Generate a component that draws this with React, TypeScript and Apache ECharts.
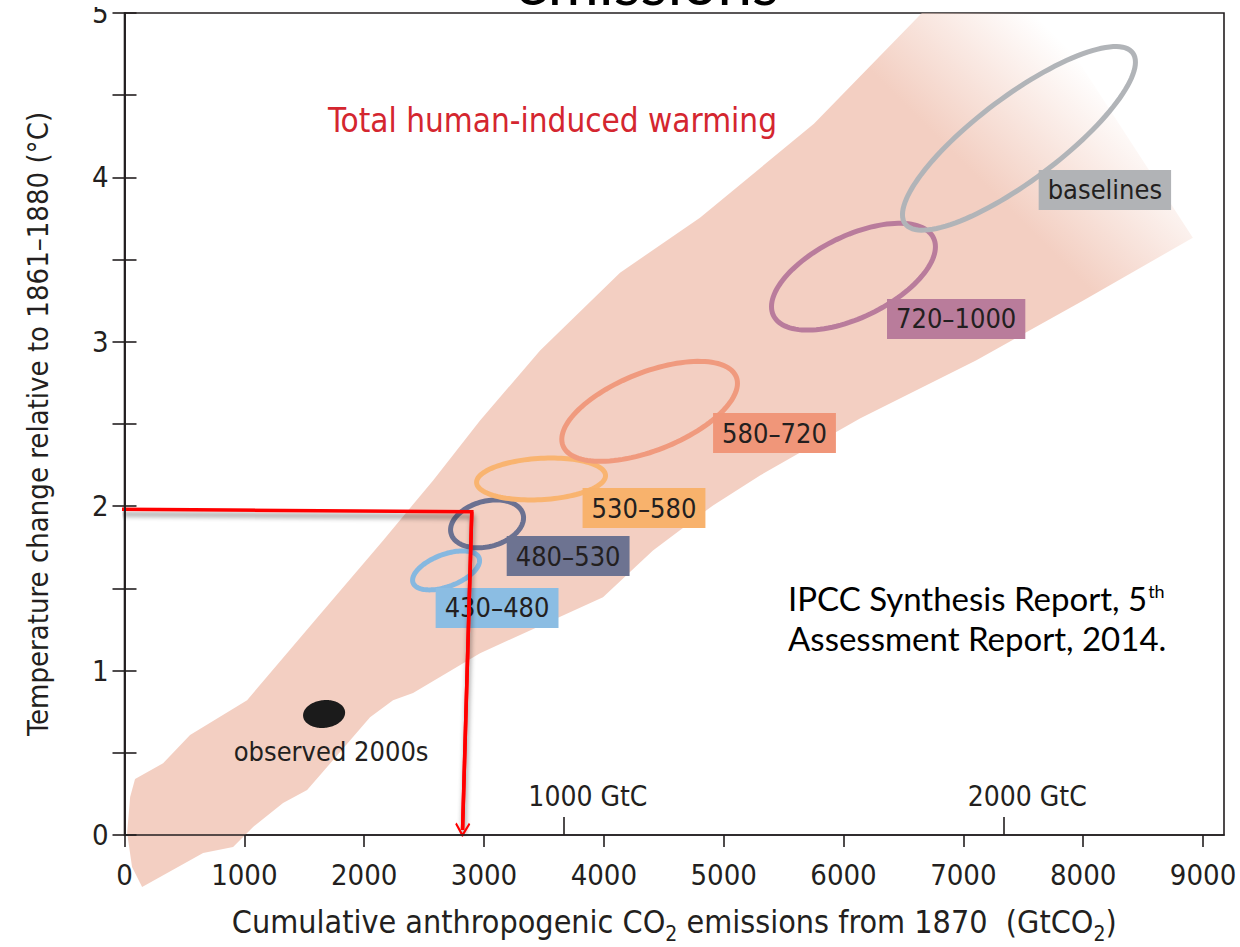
import React, { useEffect, useRef } from "react";
import * as echarts from "echarts";

// ---------------- data ----------------
const X_MAX = 9175; // GtCO2 at the right frame
const Y_MAX = 5;
const CO2_PER_C = 44 / 12;
const xTickValues = [0, 1000, 2000, 3000, 4000, 5000, 6000, 7000, 8000, 9000];
const yLabelValues = [0, 1, 2, 3, 4, 5];
const yTickValues = [0, 0.5, 1, 1.5, 2, 2.5, 3, 3.5, 4, 4.5, 5];
const gtcTickValues = [1000, 2000];

const scenarioNames = ["430–480", "480–530", "530–580", "580–720", "720–1000", "baselines"];
const ellipseXMin = [2404, 2721, 2938, 3649, 5399, 6492];
const ellipseXMax = [2963, 3330, 4014, 5115, 6767, 8436];
const ellipseYMin = [1.491, 1.747, 2.038, 2.273, 3.071, 3.679];
const ellipseYMax = [1.728, 2.038, 2.293, 2.881, 3.721, 4.796];
const ellipseTilt = [0.5, 0.25, 0.16, 0.56, 0.56, 0.83];
const labelX = [3109, 3702, 4335, 5424, 6940, 8181];
const labelY = [1.381, 1.697, 1.989, 2.445, 3.139, 3.924];

const observedXRange = [1490, 1841];
const observedYRange = [0.651, 0.821];
const observedTilt = 0.1;
const observedLabelPos = [1724, 0.505];

const bandUpperEdge = [
  [47, 0.231], [88, 0.34], [322, 0.437], [547, 0.608], [1023, 0.82], [1590, 1.306],
  [2158, 1.792], [2575, 2.157], [2967, 2.521], [3468, 2.947], [4135, 3.42],
  [4802, 3.755], [5753, 4.326], [6654, 5.0], [7700, 5.0],
];
const bandLowerEdge = [
  [8915, 3.633], [7997, 3.25], [7105, 2.886], [6137, 2.533], [5303, 2.187], [4911, 2.005],
  [4410, 1.731], [3993, 1.446], [2967, 1.106], [2408, 0.863], [2241, 0.82], [2049, 0.717],
  [1741, 0.456], [1524, 0.273], [1323, 0.194], [1073, 0.049], [906, -0.073], [656, -0.109],
  [147, -0.316], [63, -0.194], [22, 0.012],
];
const bandFadeFrom = [6304, 4.592];
const bandFadeTo = [7222, 5.262];

const arrowPath = [[-22, 1.981], [2898, 1.967], [2821, 0.03]];

// ---------------- styles ----------------
const COND = '"Liberation Sans Narrow","DejaVu Sans Condensed","Arial Narrow","Roboto Condensed",sans-serif';
const INK = "#231f20";
const scenarioStroke = ["#86b8e0", "#6b7191", "#f9b470", "#f09a7e", "#b97c9c", "#b1b4b8"];
const scenarioBox = ["#8bbde3", "#6d7391", "#f8b26c", "#f09679", "#b97c9b", "#b1b3b6"];
const BAND = "243,207,194";
const CHEVRON = "path://M10,0 L20,13 L18.2,14.8 L10,4.4 L1.8,14.8 L0,13 Z";

function ellipsePts(api: any, x0: number, x1: number, y0: number, y1: number, tilt: number) {
  const cx = (x0 + x1) / 2, cy = (y0 + y1) / 2, ax = (x1 - x0) / 2, ay = (y1 - y0) / 2;
  const phi = Math.acos(Math.max(-1, Math.min(1, tilt)));
  const pts: number[][] = [];
  const N = 120;
  for (let i = 0; i < N; i++) {
    const t = (i / N) * Math.PI * 2;
    pts.push(api.coord([cx + ax * Math.cos(t), cy + ay * Math.cos(t - phi)]));
  }
  return pts;
}

export default function App() {
  const ref = useRef<HTMLDivElement>(null);
  useEffect(() => {
    if (!ref.current) return;
    const chart = echarts.init(ref.current, undefined, { renderer: "svg" });
    const axisLine = { show: true, lineStyle: { color: INK, width: 1.6 } };

    const option: any = {
      animation: false,
      backgroundColor: "#ffffff",
      grid: {
        left: 124.5, right: 16, top: 13, bottom: 112, containLabel: false, outerBoundsMode: "none",
        show: true, borderColor: INK, borderWidth: 1.6, backgroundColor: "transparent",
      },
      xAxis: [
        {
          type: "value", min: 0, max: X_MAX, position: "bottom", z: 10,
          axisLine,
          splitLine: { show: false },
          axisTick: { show: true, inside: false, length: 12, customValues: xTickValues, lineStyle: { color: INK, width: 1.6 } },
          axisLabel: { customValues: xTickValues, margin: 25, fontSize: 29, color: INK, fontFamily: COND, formatter: (v: number) => String(v) },
          name: "{a|Cumulative anthropogenic CO}{s|2}{a| emissions from 1870  (GtCO}{s|2}{a|)}",
          nameLocation: "middle", nameGap: 70,
          nameTextStyle: {
            color: INK, fontFamily: COND, fontSize: 32,
            rich: {
              a: { fontSize: 32, fontFamily: COND, color: INK, lineHeight: 34 },
              s: { fontSize: 21, fontFamily: COND, color: INK, lineHeight: 34, verticalAlign: "bottom", padding: [0, 0, -5, 0] },
            },
          },
        },
        {
          type: "value", min: 0, max: X_MAX / CO2_PER_C, position: "bottom", z: 10,
          axisLine: { show: false },
          splitLine: { show: false },
          axisTick: { show: true, inside: true, length: 18, customValues: gtcTickValues, lineStyle: { color: INK, width: 1.6 } },
          axisLabel: {
            show: true, inside: true, customValues: gtcTickValues, margin: 25, fontSize: 28, color: INK, fontFamily: COND,
            formatter: (v: number) => `${v} GtC`, padding: [0, 0, 0, 48],
          },
        },
      ],
      yAxis: [
        {
          type: "value", min: 0, max: Y_MAX, position: "left", z: 10,
          axisLine,
          splitLine: { show: false },
          axisTick: { show: true, inside: true, length: 12, customValues: yTickValues, lineStyle: { color: INK, width: 1.6 } },
          axisLabel: { customValues: yLabelValues, margin: 16, fontSize: 29, color: INK, fontFamily: COND },
          name: "Temperature change relative to 1861–1880 (°C)",
          nameLocation: "middle", nameGap: 72,
          nameTextStyle: { color: INK, fontFamily: COND, fontSize: 29 },
        },
        {
          type: "value", min: 0, max: Y_MAX, position: "right", z: 10,
          axisLine,
          splitLine: { show: false },
          axisTick: { show: true, inside: true, length: 12, customValues: yTickValues, lineStyle: { color: INK, width: 1.6 } },
          axisLabel: { show: false },
        },
      ],
      series: [
        {
          type: "custom", name: "band", coordinateSystem: "cartesian2d", clip: false, silent: true, z: 1,
          data: [[0, 0]],
          renderItem: (_p: any, api: any) => {
            const pts = bandUpperEdge.concat(bandLowerEdge).map((d) => api.coord(d));
            const a = api.coord(bandFadeFrom), b = api.coord(bandFadeTo);
            return {
              type: "polygon",
              shape: { points: pts },
              style: {
                fill: new echarts.graphic.LinearGradient(a[0], a[1], b[0], b[1], [
                  { offset: 0, color: `rgba(${BAND},1)` },
                  { offset: 1, color: `rgba(${BAND},0)` },
                ], true),
                stroke: "none",
              },
            };
          },
        },
        {
          type: "custom", name: "ellipses", coordinateSystem: "cartesian2d", clip: false, silent: true, z: 3,
          data: scenarioNames.map((_, i) => [ellipseXMin[i], ellipseYMin[i], ellipseXMax[i], ellipseYMax[i], ellipseTilt[i], i]),
          renderItem: (_p: any, api: any) => {
            const i = api.value(5);
            const pts = ellipsePts(api, api.value(0), api.value(2), api.value(1), api.value(3), api.value(4));
            return {
              type: "polygon",
              shape: { points: pts },
              style: { fill: "none", stroke: scenarioStroke[i], lineWidth: 5 },
            };
          },
        },
        {
          type: "custom", name: "observed", coordinateSystem: "cartesian2d", clip: false, silent: true, z: 3,
          data: [[observedXRange[0], observedYRange[0], observedXRange[1], observedYRange[1], observedTilt]],
          renderItem: (_p: any, api: any) => ({
            type: "polygon",
            shape: { points: ellipsePts(api, api.value(0), api.value(2), api.value(1), api.value(3), api.value(4)) },
            style: { fill: "#1b1b1b", stroke: "none" },
          }),
        },
        {
          type: "scatter", name: "labels", z: 4, silent: true, symbol: "circle", symbolSize: 2,
          itemStyle: { color: "rgba(0,0,0,0)", opacity: 1 },
          data: scenarioNames.map((n, i) => ({
            name: n, value: [labelX[i], labelY[i]],
            label: { backgroundColor: scenarioBox[i] },
          })),
          label: {
            show: true, position: "inside", formatter: "{b}", color: INK, fontFamily: COND, fontSize: 27,
            lineHeight: 31, padding: [5, 9, 4, 9], opacity: 1,
          },
        },
        {
          type: "scatter", name: "observedLabel", z: 4, silent: true, symbol: "circle", symbolSize: 2,
          itemStyle: { color: "rgba(0,0,0,0)", opacity: 1 },
          data: [{ name: "observed 2000s", value: observedLabelPos }],
          label: { show: true, position: "inside", formatter: "{b}", color: INK, fontFamily: COND, fontSize: 27, opacity: 1 },
        },
        {
          type: "lines", coordinateSystem: "cartesian2d", polyline: true, z: 6, silent: true,
          data: [{ coords: arrowPath }],
          lineStyle: { color: "#ff0000", width: 3.5, opacity: 1, shadowColor: "rgba(0,0,0,0.45)", shadowBlur: 5, shadowOffsetY: 5, shadowOffsetX: 1 },
        },
        {
          type: "lines", coordinateSystem: "cartesian2d", z: 7, silent: true,
          data: [{ coords: [arrowPath[1], arrowPath[2]] }],
          symbol: ["none", CHEVRON],
          symbolSize: [16, 15],
          lineStyle: { color: "#ff0000", width: 3.5, opacity: 1 },
        },
      ],
      graphic: [
        {
          type: "text", left: 328, top: 104, z: 20, silent: true,
          style: { text: "Total human-induced warming", fill: "#d4262f", font: `33px ${COND}` },
        },
        {
          type: "text", left: 788, top: 578, z: 20, silent: true,
          style: {
            text: "{a|IPCC Synthesis Report, 5}{sup|th}\n{a|Assessment Report, 2014.}",
            rich: {
              a: { fontSize: 33, fontFamily: "Lato", fill: "#000", lineHeight: 40 },
              sup: { fontSize: 18, fontFamily: "Lato", fill: "#000", lineHeight: 40, verticalAlign: "top", padding: [4, 0, 0, 1] },
            },
          },
        },
        {
          type: "rect", left: 0, top: 0, z: 30, silent: true,
          shape: { width: 124, height: 7 },
          style: { fill: "#ffffff" },
        },
        {
          type: "text", x: 647, y: -19, z: 31, silent: true,
          style: { text: "emissions", fill: "#000", font: `62px Lato`, align: "center", verticalAlign: "middle" },
        },
      ],
    };
    chart.setOption(option);
    return () => chart.dispose();
  }, []);
  return <div ref={ref} style={{ position: "absolute", left: 0, top: 0, width: 1240, height: 947 }} />;
}
